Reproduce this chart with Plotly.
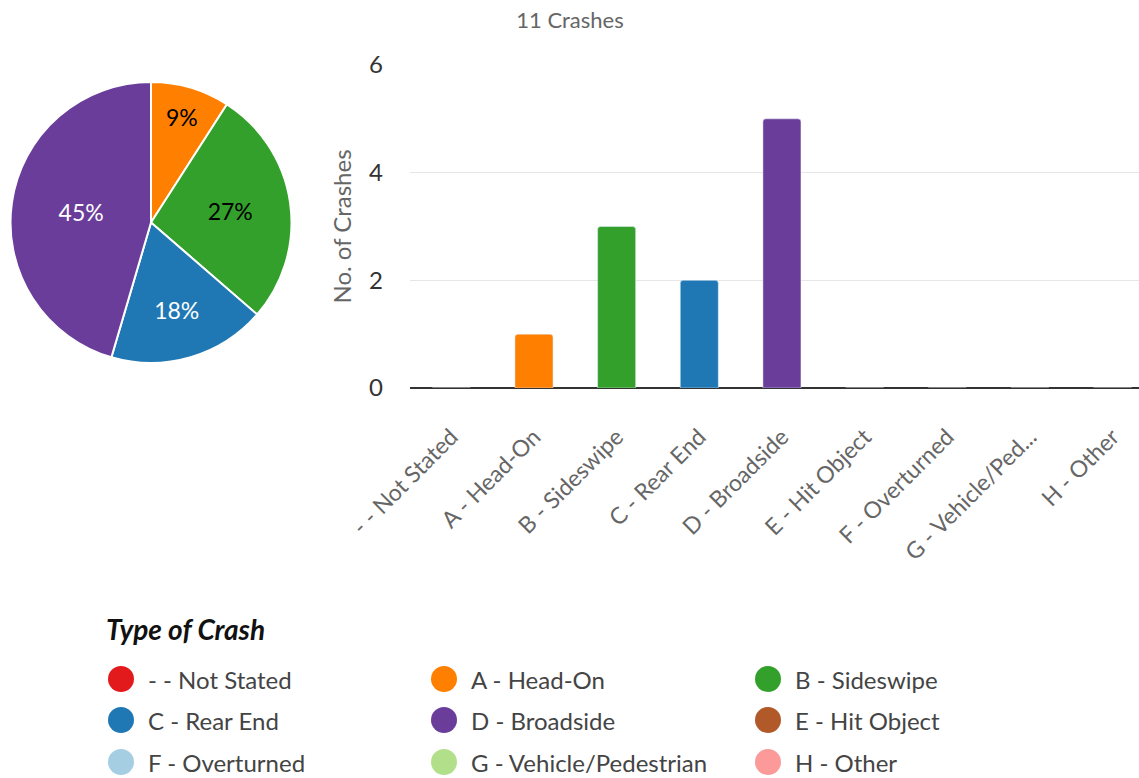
import plotly.graph_objects as go

categories = ["- - Not Stated", "A - Head-On", "B - Sideswipe", "C - Rear End",
              "D - Broadside", "E - Hit Object", "F - Overturned",
              "G - Vehicle/Pedestrian", "H - Other"]
tick_labels = ["- - Not Stated", "A - Head-On", "B - Sideswipe", "C - Rear End",
               "D - Broadside", "E - Hit Object", "F - Overturned",
               "G - Vehicle/Ped...", "H - Other"]
crashes = [0, 1, 3, 2, 5, 0, 0, 0, 0]
colors = ["#e31a1c", "#ff7f00", "#33a02c", "#1f78b4", "#6a3d9a",
          "#b15928", "#a6cee3", "#b2df8a", "#fb9a99"]
pie_text_colors = ["#000000", "#000000", "#000000", "#ffffff", "#ffffff",
                   "#ffffff", "#000000", "#000000", "#000000"]
title_text = "11 Crashes"
legend_title = "Type of Crash"

W, H = 1139, 778
FONT = "Lato, 'Open Sans', sans-serif"

fig = go.Figure()

# pie (only non-zero slices drawn)
pie_idx = [i for i, v in enumerate(crashes) if v > 0]
fig.add_trace(go.Pie(
    labels=[categories[i] for i in pie_idx],
    values=[crashes[i] for i in pie_idx],
    marker=dict(colors=[colors[i] for i in pie_idx],
                line=dict(color="white", width=2)),
    sort=False, direction="clockwise", rotation=0,
    texttemplate="%{percent:.0%}", textposition="inside",
    insidetextfont=dict(color=[pie_text_colors[i] for i in pie_idx], size=23, family=FONT),
    domain=dict(x=[10 / W, 292 / W], y=[1 - 363 / H, 1 - 82 / H]),
    showlegend=False, hoverinfo="label+value+percent",
))

# bars
fig.add_trace(go.Bar(
    x=categories, y=crashes,
    marker=dict(color=colors, cornerradius=3),
    width=0.46, showlegend=False,
))

# manual legend
col_x = [121, 444, 768]
row_y = [679, 720, 762]
for i, (cat, col) in enumerate(zip(categories, colors)):
    r, c = divmod(i, 3)
    cx, cy = col_x[c] / W, 1 - row_y[r] / H
    fig.add_shape(type="circle", xref="paper", yref="paper",
                  xsizemode="pixel", ysizemode="pixel",
                  xanchor=cx, yanchor=cy, x0=-13, x1=13, y0=-13, y1=13,
                  fillcolor=col, line=dict(width=0))
    fig.add_annotation(x=(col_x[c] + 25) / W, y=cy, xref="paper", yref="paper",
                       text=cat, showarrow=False, xanchor="left", yanchor="middle",
                       font=dict(size=24, color="#444", family=FONT))
fig.add_annotation(x=104 / W, y=1 - 629 / H, xref="paper", yref="paper",
                   text=f"<b><i>{legend_title}</i></b>", showarrow=False,
                   xanchor="left", yanchor="middle",
                   font=dict(size=28, color="#111", family=FONT))

fig.update_layout(
    width=W, height=H,
    margin=dict(l=0, r=0, t=0, b=0, autoexpand=False),
    paper_bgcolor="white", plot_bgcolor="white",
    font=dict(family=FONT, color="#555"),
    title=dict(text=title_text, x=570 / W, xanchor="center", y=1 - 20 / H, yanchor="middle",
               font=dict(size=22, color="#666", family=FONT)),
    xaxis=dict(domain=[410 / W, 1], range=[-0.5, 8.32],
               tickmode="array", tickvals=categories, ticktext=tick_labels,
               tickangle=-45, tickfont=dict(size=23, color="#666", family=FONT),
               showgrid=False, showline=False, zeroline=False, ticks="",
               ticklabelstandoff=30, automargin=False),
    yaxis=dict(domain=[1 - 388 / H, 1 - 65 / H], range=[0, 6],
               tickvals=[0, 2, 4, 6], showgrid=True, gridcolor="#e6e6e6", gridwidth=1,
               zeroline=True, zerolinecolor="#333", zerolinewidth=2,
               tickfont=dict(size=24, color="#333", family=FONT), ticks="",
               ticklabelstandoff=26, automargin=False,
               title=dict(text="No. of Crashes", font=dict(size=24, color="#666", family=FONT),
                          standoff=10)),
    bargap=0.54,
)

fig.write_html("out.html")
